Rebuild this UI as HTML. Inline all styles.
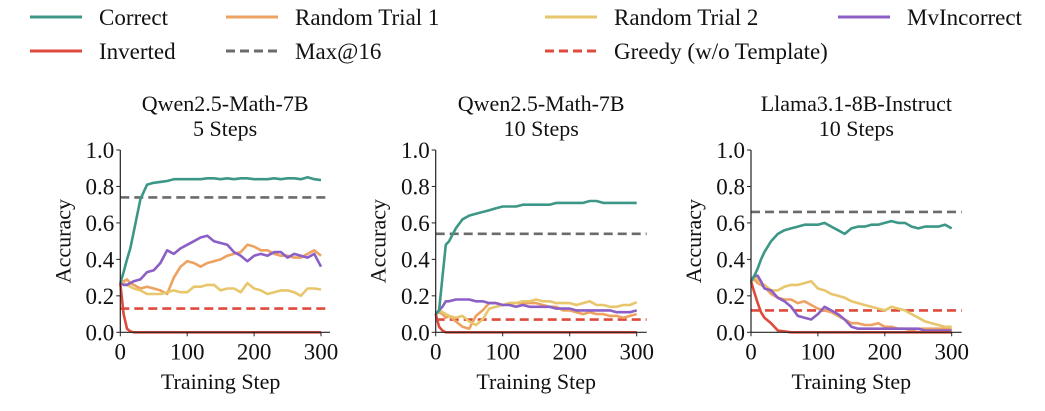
<!DOCTYPE html>
<html><head><meta charset="utf-8"><style>
body{margin:0;background:#fff}
svg, svg text{font-family:"Liberation Serif","Times New Roman","Tinos","Noto Serif CJK SC","DejaVu Serif",serif}
</style></head><body>
<svg id="chart" width="1045" height="406" viewBox="0 0 1045 406"></svg>
<script>
const steps=[0,5,10,15,20,30,40,50,60,70,80,90,100,110,120,130,140,150,160,170,180,190,200,210,220,230,240,250,260,270,280,290,300];
const xTicks=[0,100,200,300];
const yTicks=[0.0,0.2,0.4,0.6,0.8,1.0];
const panelTitles=[["Qwen2.5-Math-7B","5 Steps"],["Qwen2.5-Math-7B","10 Steps"],["Llama3.1-8B-Instruct","10 Steps"]];
const seriesNames=["Random Trial 1","Random Trial 2","MvIncorrect","Inverted","Correct"];
// Panel 1
const p1Correct=[.27,.33,.40,.46,.55,.73,.81,.82,.825,.83,.84,.84,.84,.84,.84,.845,.845,.84,.845,.84,.845,.845,.84,.84,.84,.845,.84,.845,.845,.84,.85,.84,.835];
const p1Inverted=[.27,.10,.02,.005,0,0,0,0,0,0,0,0,0,0,0,0,0,0,0,0,0,0,0,0,0,0,0,0,0,0,0,0,0];
const p1Random1=[.27,.28,.29,.27,.26,.24,.25,.24,.23,.21,.30,.36,.39,.38,.36,.38,.39,.40,.42,.43,.44,.48,.47,.45,.45,.43,.42,.42,.41,.41,.43,.45,.42];
const p1Random2=[.27,.27,.26,.25,.24,.23,.21,.21,.21,.22,.23,.22,.22,.25,.25,.26,.26,.23,.24,.24,.22,.27,.24,.23,.21,.22,.23,.23,.22,.20,.24,.24,.235];
const p1MvIncorrect=[.27,.26,.26,.27,.28,.29,.33,.34,.38,.45,.43,.46,.48,.50,.52,.53,.50,.49,.48,.44,.42,.39,.42,.43,.42,.44,.44,.41,.43,.42,.41,.43,.36];
const p1Max=0.74, p1Greedy=0.13;
// Panel 2
const p2Correct=[.10,.12,.30,.48,.50,.57,.62,.64,.65,.66,.67,.68,.69,.69,.69,.70,.70,.70,.70,.70,.71,.71,.71,.71,.71,.72,.72,.71,.71,.71,.71,.71,.71];
const p2Inverted=[.10,.03,.01,0,0,0,0,0,0,0,0,0,0,0,0,0,0,0,0,0,0,0,0,0,0,0,0,0,0,0,0,0,0];
const p2Random1=[.10,.11,.10,.08,.09,.06,.03,.02,.09,.12,.16,.16,.15,.16,.16,.16,.16,.16,.15,.14,.14,.12,.12,.11,.10,.11,.10,.10,.09,.09,.08,.09,.10];
const p2Random2=[.10,.12,.11,.10,.09,.08,.09,.06,.04,.07,.13,.14,.15,.16,.16,.17,.17,.18,.17,.17,.16,.16,.16,.15,.16,.17,.15,.15,.14,.14,.15,.15,.165];
const p2MvIncorrect=[.10,.12,.14,.17,.17,.18,.18,.18,.17,.17,.16,.16,.15,.15,.14,.15,.14,.14,.14,.14,.13,.13,.13,.12,.12,.12,.12,.12,.12,.11,.11,.11,.12];
const p2Max=0.54, p2Greedy=0.07;
// Panel 3
const p3Correct=[.28,.31,.35,.40,.44,.50,.54,.56,.57,.58,.59,.59,.59,.60,.58,.56,.54,.57,.58,.58,.59,.59,.60,.61,.60,.60,.58,.57,.58,.58,.58,.59,.57];
const p3Inverted=[.28,.22,.16,.11,.08,.05,.01,.005,0,0,0,0,0,0,0,0,0,0,0,0,0,0,0,0,0,0,0,0,0,0,0,0,0];
const p3Random1=[.28,.29,.27,.26,.25,.21,.19,.18,.18,.16,.17,.15,.13,.12,.11,.09,.07,.05,.05,.04,.04,.05,.03,.03,.02,.02,.01,.02,.02,.02,.02,.02,.02];
const p3Random2=[.28,.30,.29,.27,.26,.23,.23,.25,.26,.26,.27,.28,.24,.23,.21,.20,.19,.17,.16,.15,.14,.13,.12,.14,.13,.12,.10,.08,.06,.05,.04,.03,.03];
const p3MvIncorrect=[.28,.31,.31,.28,.24,.23,.19,.17,.14,.09,.08,.07,.10,.14,.12,.10,.07,.03,.02,.02,.02,.02,.02,.02,.02,.02,.02,.02,.01,.01,.01,.01,.01];
const p3Max=0.66, p3Greedy=0.12;

const C={correct:"#3d9787",inverted:"#de4a3c",r1:"#eea262",r2:"#e8c66c",mv:"#8c5fc6",max:"#6b6b6b"};
const svg=document.getElementById('chart');
const NS="http://www.w3.org/2000/svg";
function mk(tag,attrs,parent){const e=document.createElementNS(NS,tag);for(const k in attrs)e.setAttribute(k,attrs[k]);(parent||svg).appendChild(e);return e;}

const legendItems=[["Correct",C.correct,false,30,17],["Random Trial 1",C.r1,false,226,17],["Random Trial 2",C.r2,false,545,17],["MvIncorrect",C.mv,false,838,17],
["Inverted",C.inverted,false,30,51],["Max@16",C.max,true,226,51],["Greedy (w/o Template)",C.inverted,true,545,51]];
const lg=mk('g',{});


legendItems.forEach(it=>{
  const g=mk('g',{},lg);
  
  
  const l=mk('line',{x1:it[3],x2:it[3]+52,y1:it[4],y2:it[4],stroke:it[1],'stroke-width':3},g);
  if(it[2])l.setAttribute('stroke-dasharray','9,5');
  const t=mk('text',{x:it[3]+69,y:it[4]+8,'font-size':23,fill:'#111'},g);t.textContent=it[0];
});

const panels=[
 {x0:120.3,x1:321,xe:330,series:[p1Random1,p1Random2,p1MvIncorrect,p1Inverted,p1Correct],max:p1Max,greedy:p1Greedy},
 {x0:435.7,x1:636.7,xe:646.7,series:[p2Random1,p2Random2,p2MvIncorrect,p2Inverted,p2Correct],max:p2Max,greedy:p2Greedy},
 {x0:751,x1:951.7,xe:961.7,series:[p3Random1,p3Random2,p3MvIncorrect,p3Inverted,p3Correct],max:p3Max,greedy:p3Greedy}
];
const yTop=150, yBot=332.3;
const colors=[C.r1,C.r2,C.mv,C.inverted,C.correct];
panels.forEach((p,pi)=>{
  const g=mk('g',{});
  
  
  const sx=v=>p.x0+(p.x1-p.x0)*v/300;
  const sy=v=>yBot-(yBot-yTop)*v;
  const cx=(p.x0+p.xe)/2;
  const t1=mk('text',{x:cx,y:111,'font-size':22,'text-anchor':'middle',fill:'#111'},g);t1.textContent=panelTitles[pi][0];
  
  
  const t2=mk('text',{x:cx,y:136,'font-size':22,'text-anchor':'middle',fill:'#111'},g);t2.textContent=panelTitles[pi][1];
  const mx=mk('line',{x1:p.x0,x2:p.xe,y1:sy(p.max),y2:sy(p.max),stroke:C.max,'stroke-width':2.6,'stroke-dasharray':'9,5'},g);
  
  
  const gr=mk('line',{x1:p.x0,x2:p.xe,y1:sy(p.greedy),y2:sy(p.greedy),stroke:C.inverted,'stroke-width':2.6,'stroke-dasharray':'9,5'},g);
  
  
  p.series.forEach((s,si)=>{
    const d=s.map((v,i)=>(i?'L':'M')+sx(steps[i]).toFixed(1)+','+sy(v).toFixed(1)).join('');
    const path=mk('path',{d:d,fill:'none',stroke:colors[si],'stroke-width':2.6,'stroke-linejoin':'round'},g);
    
    
  });
  mk('line',{x1:p.x0,x2:p.x0,y1:yTop,y2:yBot,stroke:'#222','stroke-width':1.2},g);
  mk('line',{x1:p.x0,x2:p.xe,y1:yBot,y2:yBot,stroke:'#222','stroke-width':1.2},g);
  yTicks.forEach(v=>{
    mk('line',{x1:p.x0-4,x2:p.x0,y1:sy(v),y2:sy(v),stroke:'#222','stroke-width':1},g);
    const t=mk('text',{x:p.x0-6,y:sy(v)+8,'font-size':23,'text-anchor':'end',fill:'#111'},g);t.textContent=v.toFixed(1);
  });
  xTicks.forEach(v=>{
    mk('line',{x1:sx(v),x2:sx(v),y1:yBot,y2:yBot+4,stroke:'#222','stroke-width':1},g);
    const t=mk('text',{x:sx(v),y:yBot+27,'font-size':23,'text-anchor':'middle',fill:'#111'},g);t.textContent=v;
  });
  const xl=mk('text',{x:(p.x0+p.x1)/2,y:389,'font-size':22,'text-anchor':'middle',fill:'#111'},g);xl.textContent="Training Step";
  
  
  const yl=mk('text',{x:0,y:0,'font-size':22,'text-anchor':'middle',fill:'#111',transform:`translate(${p.x0-50},${(yTop+yBot)/2}) rotate(-90)`},g);yl.textContent="Accuracy";
  
  
});
</script>
</body></html>
